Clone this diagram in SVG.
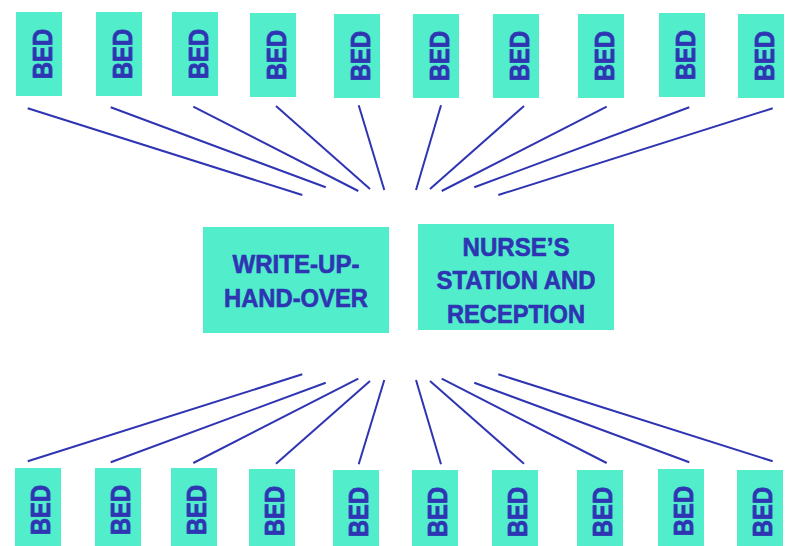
<svg xmlns="http://www.w3.org/2000/svg" width="787" height="546" viewBox="0 0 787 546">
<style>
.box{fill:#52EECC}
.bt{font-family:"Liberation Sans",Arial,sans-serif;font-weight:bold;font-size:27px;fill:#2E34B2;stroke:#2E34B2;stroke-width:0.7;text-anchor:middle}
.mt{font-family:"Liberation Sans",Arial,sans-serif;font-weight:bold;font-size:25.5px;fill:#2E34B2;stroke:#2E34B2;stroke-width:0.6;text-anchor:middle}
.ln line{stroke:#2E34B2;stroke-width:2;stroke-linecap:butt}
</style>
<rect width="787" height="546" fill="#fff"/>
<g id="connectors" class="ln">
<line x1="27.7" y1="108.3" x2="302.3" y2="195"/>
<line x1="110.7" y1="107.3" x2="325.7" y2="187.3"/>
<line x1="193.3" y1="106.7" x2="358.3" y2="191"/>
<line x1="276" y1="106" x2="370" y2="189"/>
<line x1="358.7" y1="105.3" x2="384.3" y2="190"/>
<line x1="441" y1="105.3" x2="416" y2="190"/>
<line x1="524" y1="106" x2="430" y2="189"/>
<line x1="606.7" y1="106.7" x2="441.7" y2="191"/>
<line x1="689.3" y1="107.3" x2="474.3" y2="187.3"/>
<line x1="772.7" y1="108.3" x2="498.3" y2="195"/>
<line x1="27.7" y1="461.3" x2="302.3" y2="374.3"/>
<line x1="110.7" y1="462.3" x2="325.7" y2="382.7"/>
<line x1="193.3" y1="463" x2="358.3" y2="378.7"/>
<line x1="276" y1="463.7" x2="370" y2="381"/>
<line x1="358.7" y1="464.3" x2="384.3" y2="380"/>
<line x1="441" y1="464.3" x2="416" y2="380"/>
<line x1="524" y1="463.7" x2="430" y2="381"/>
<line x1="606.7" y1="463" x2="441.7" y2="378.7"/>
<line x1="689.3" y1="462.3" x2="474.3" y2="382.7"/>
<line x1="772.7" y1="461.3" x2="498.3" y2="374.3"/>
</g>
<g id="bed-t1"><rect class="box" x="16" y="12" width="46" height="84"/><text class="bt" transform="translate(52,54) rotate(-90)" textLength="50" lengthAdjust="spacingAndGlyphs">BED</text></g>
<g id="bed-t2"><rect class="box" x="96" y="12" width="46" height="84"/><text class="bt" transform="translate(132,54) rotate(-90)" textLength="50" lengthAdjust="spacingAndGlyphs">BED</text></g>
<g id="bed-t3"><rect class="box" x="172" y="12" width="46" height="84"/><text class="bt" transform="translate(208,54) rotate(-90)" textLength="50" lengthAdjust="spacingAndGlyphs">BED</text></g>
<g id="bed-t4"><rect class="box" x="250" y="13" width="46" height="84"/><text class="bt" transform="translate(286,55) rotate(-90)" textLength="50" lengthAdjust="spacingAndGlyphs">BED</text></g>
<g id="bed-t5"><rect class="box" x="334" y="14" width="46" height="84"/><text class="bt" transform="translate(370,56) rotate(-90)" textLength="50" lengthAdjust="spacingAndGlyphs">BED</text></g>
<g id="bed-t6"><rect class="box" x="413" y="14" width="46" height="84"/><text class="bt" transform="translate(449,56) rotate(-90)" textLength="50" lengthAdjust="spacingAndGlyphs">BED</text></g>
<g id="bed-t7"><rect class="box" x="493" y="14" width="46" height="84"/><text class="bt" transform="translate(529,56) rotate(-90)" textLength="50" lengthAdjust="spacingAndGlyphs">BED</text></g>
<g id="bed-t8"><rect class="box" x="578" y="14" width="46" height="84"/><text class="bt" transform="translate(614,56) rotate(-90)" textLength="50" lengthAdjust="spacingAndGlyphs">BED</text></g>
<g id="bed-t9"><rect class="box" x="659" y="13" width="46" height="84"/><text class="bt" transform="translate(695,55) rotate(-90)" textLength="50" lengthAdjust="spacingAndGlyphs">BED</text></g>
<g id="bed-t10"><rect class="box" x="738" y="14" width="46" height="84"/><text class="bt" transform="translate(774,56) rotate(-90)" textLength="50" lengthAdjust="spacingAndGlyphs">BED</text></g>
<g id="writeup"><rect class="box" x="203" y="227" width="186" height="106"/><text class="mt" x="296" y="272.5" textLength="127" lengthAdjust="spacingAndGlyphs">WRITE-UP-</text><text class="mt" x="296" y="306.5" textLength="144" lengthAdjust="spacingAndGlyphs">HAND-OVER</text></g>
<g id="nurses-station"><rect class="box" x="418" y="224" width="196" height="106"/><text class="mt" x="516" y="255.5" textLength="107" lengthAdjust="spacingAndGlyphs">NURSE’S</text><text class="mt" x="516" y="289.3" textLength="159" lengthAdjust="spacingAndGlyphs">STATION AND</text><text class="mt" x="516" y="322.7" textLength="138" lengthAdjust="spacingAndGlyphs">RECEPTION</text></g>
<g id="bed-b1"><rect class="box" x="15" y="468" width="46" height="84"/><text class="bt" transform="translate(50,510) rotate(-90)" textLength="50" lengthAdjust="spacingAndGlyphs">BED</text></g>
<g id="bed-b2"><rect class="box" x="95" y="468" width="46" height="84"/><text class="bt" transform="translate(130,510) rotate(-90)" textLength="50" lengthAdjust="spacingAndGlyphs">BED</text></g>
<g id="bed-b3"><rect class="box" x="171" y="468" width="46" height="84"/><text class="bt" transform="translate(206,510) rotate(-90)" textLength="50" lengthAdjust="spacingAndGlyphs">BED</text></g>
<g id="bed-b4"><rect class="box" x="249" y="469" width="46" height="84"/><text class="bt" transform="translate(284,511) rotate(-90)" textLength="50" lengthAdjust="spacingAndGlyphs">BED</text></g>
<g id="bed-b5"><rect class="box" x="333" y="470" width="46" height="84"/><text class="bt" transform="translate(368,512) rotate(-90)" textLength="50" lengthAdjust="spacingAndGlyphs">BED</text></g>
<g id="bed-b6"><rect class="box" x="412" y="470" width="46" height="84"/><text class="bt" transform="translate(447,512) rotate(-90)" textLength="50" lengthAdjust="spacingAndGlyphs">BED</text></g>
<g id="bed-b7"><rect class="box" x="492" y="470" width="46" height="84"/><text class="bt" transform="translate(527,512) rotate(-90)" textLength="50" lengthAdjust="spacingAndGlyphs">BED</text></g>
<g id="bed-b8"><rect class="box" x="577" y="470" width="46" height="84"/><text class="bt" transform="translate(612,512) rotate(-90)" textLength="50" lengthAdjust="spacingAndGlyphs">BED</text></g>
<g id="bed-b9"><rect class="box" x="658" y="469" width="46" height="84"/><text class="bt" transform="translate(693,511) rotate(-90)" textLength="50" lengthAdjust="spacingAndGlyphs">BED</text></g>
<g id="bed-b10"><rect class="box" x="737" y="470" width="46" height="84"/><text class="bt" transform="translate(772,512) rotate(-90)" textLength="50" lengthAdjust="spacingAndGlyphs">BED</text></g>
</svg>
